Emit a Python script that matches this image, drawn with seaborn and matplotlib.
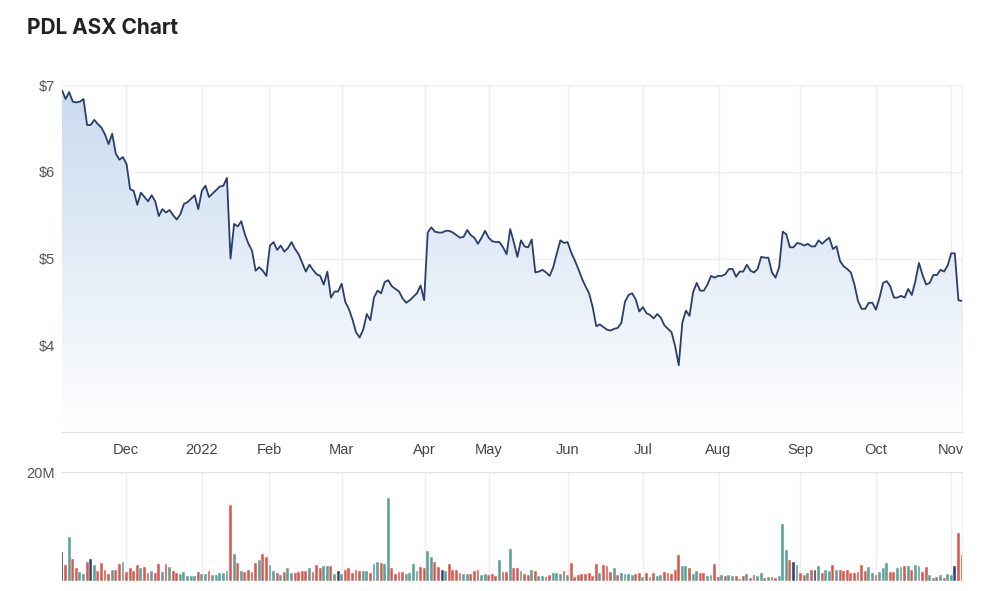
import numpy as np
import pandas as pd
import matplotlib
matplotlib.use("Agg")
import matplotlib.pyplot as plt
from matplotlib.colors import LinearSegmentedColormap
import seaborn as sns

# daily close, trading days from early Nov 2021 to early Nov 2022
price = [
    6.94, 6.84, 6.92, 6.81, 6.80, 6.81, 6.84, 6.54, 6.54, 6.60,
    6.55, 6.51, 6.43, 6.32, 6.44, 6.21, 6.14, 6.17, 6.09, 5.80,
    5.78, 5.62, 5.76, 5.71, 5.66, 5.73, 5.66, 5.49, 5.57, 5.53,
    5.56, 5.50, 5.45, 5.51, 5.63, 5.65, 5.69, 5.73, 5.57, 5.78,
    5.84, 5.71, 5.75, 5.79, 5.83, 5.84, 5.93, 5.00, 5.40, 5.37,
    5.43, 5.28, 5.17, 5.09, 4.86, 4.90, 4.86, 4.80, 5.15, 5.19,
    5.10, 5.15, 5.08, 5.12, 5.19, 5.11, 5.05, 4.95, 4.85, 4.93,
    4.87, 4.82, 4.80, 4.70, 4.85, 4.55, 4.62, 4.62, 4.71, 4.50,
    4.42, 4.30, 4.15, 4.09, 4.18, 4.36, 4.29, 4.55, 4.63, 4.60,
    4.73, 4.75, 4.68, 4.65, 4.62, 4.54, 4.49, 4.52, 4.56, 4.60,
    4.69, 4.52, 5.30, 5.36, 5.31, 5.30, 5.30, 5.32, 5.32, 5.30,
    5.27, 5.24, 5.25, 5.33, 5.27, 5.24, 5.17, 5.24, 5.32, 5.24,
    5.20, 5.19, 5.19, 5.13, 5.05, 5.34, 5.19, 5.02, 5.21, 5.14,
    5.13, 5.22, 4.84, 4.85, 4.87, 4.84, 4.80, 4.90, 5.06, 5.21,
    5.18, 5.19, 5.07, 4.98, 4.88, 4.77, 4.68, 4.60, 4.44, 4.22,
    4.24, 4.21, 4.18, 4.17, 4.19, 4.20, 4.26, 4.50, 4.58, 4.60,
    4.53, 4.39, 4.44, 4.37, 4.35, 4.31, 4.36, 4.32, 4.23, 4.19,
    4.15, 3.99, 3.77, 4.26, 4.40, 4.34, 4.61, 4.72, 4.63, 4.63,
    4.70, 4.80, 4.78, 4.80, 4.80, 4.82, 4.88, 4.88, 4.79, 4.85,
    4.85, 4.93, 4.86, 4.84, 4.88, 5.02, 5.01, 5.01, 4.84, 4.78,
    4.90, 5.31, 5.28, 5.13, 5.13, 5.18, 5.17, 5.15, 5.17, 5.14,
    5.14, 5.21, 5.17, 5.21, 5.24, 5.11, 5.14, 4.97, 4.91, 4.88,
    4.84, 4.70, 4.51, 4.42, 4.42, 4.49, 4.49, 4.41, 4.55, 4.72,
    4.74, 4.68, 4.55, 4.55, 4.57, 4.55, 4.65, 4.58, 4.74, 4.95,
    4.81, 4.70, 4.72, 4.81, 4.81, 4.87, 4.85, 4.92, 5.06, 5.06,
    4.52, 4.51,
]

# volume in millions of shares
volume_m = [
    5.3, 2.9, 8.0, 4.1, 2.3, 1.7, 1.3, 3.5, 4.0, 2.9,
    1.9, 3.3, 2.1, 1.3, 2.0, 2.1, 3.1, 3.5, 1.7, 2.3,
    1.9, 2.9, 2.3, 2.5, 1.5, 1.9, 1.5, 3.1, 1.7, 3.1,
    2.5, 1.9, 1.5, 1.3, 1.7, 0.9, 0.9, 0.9, 1.7, 1.3,
    1.3, 1.9, 1.1, 1.1, 1.5, 1.5, 1.9, 14.0, 5.0, 3.3,
    1.9, 1.7, 2.1, 1.7, 3.3, 3.9, 5.0, 4.4, 2.9, 1.9,
    1.5, 1.1, 1.7, 2.3, 1.5, 1.5, 1.7, 1.9, 1.9, 2.3,
    1.7, 2.9, 2.3, 2.7, 2.7, 2.7, 1.3, 1.9, 1.3, 2.1,
    2.3, 1.5, 2.1, 1.9, 1.9, 1.9, 1.5, 3.2, 3.5, 3.3,
    3.1, 15.2, 2.3, 1.3, 1.7, 1.7, 1.3, 1.5, 3.1, 1.9,
    2.5, 2.3, 5.5, 4.4, 3.5, 2.5, 2.1, 1.9, 3.1, 2.1,
    2.1, 1.5, 1.3, 1.3, 1.3, 1.9, 2.1, 1.1, 1.3, 1.1,
    1.3, 0.9, 3.9, 1.7, 1.7, 5.9, 2.3, 2.3, 1.9, 1.3,
    1.1, 2.1, 1.9, 0.9, 0.9, 0.7, 1.1, 1.5, 1.5, 1.3,
    1.9, 1.1, 3.3, 0.7, 1.1, 1.3, 1.3, 1.5, 0.9, 3.1,
    1.5, 2.9, 2.7, 1.7, 2.3, 1.1, 1.5, 1.3, 1.3, 1.1,
    1.3, 1.5, 0.7, 1.5, 0.7, 1.5, 0.9, 1.1, 1.7, 1.5,
    1.3, 2.1, 4.8, 2.7, 2.7, 2.3, 1.3, 1.9, 1.5, 1.5,
    0.9, 1.1, 3.1, 0.7, 1.1, 0.9, 1.1, 0.9, 0.9, 0.3,
    0.9, 1.3, 0.5, 1.1, 0.9, 1.5, 0.5, 0.7, 0.7, 0.5,
    0.9, 10.5, 5.7, 3.9, 3.5, 2.9, 1.5, 1.1, 1.5, 2.1,
    2.1, 2.7, 1.5, 2.1, 1.9, 2.9, 2.1, 2.1, 1.9, 2.1,
    1.5, 1.5, 1.7, 2.9, 1.9, 2.5, 1.5, 1.1, 1.7, 2.3,
    3.3, 1.7, 1.7, 2.3, 2.5, 2.7, 2.7, 2.1, 2.9, 2.7,
    1.7, 2.5, 1.1, 0.5, 0.7, 1.1, 0.5, 1.3, 1.1, 2.7,
    8.9, 4.8,
]

# u = up day, d = down day, f = unchanged
direction = """
f d u d d u u d f u  d d d d u d d u d d  d d u d d u d d u d
u d d u u u u u d u  u d u u u u u d u d  u d d d d u d d u u
d u d u u d d d d u  d d d u u d u f u d  d d d d u u d u u d
u u d d d d u u u u  d d u u d d f u d d  d d u u d d d u u d
d d u d d u d d u d  d u d u u d d u u u  d u d d d d d d d d
u d d d u d u u u u  d d u d u d u u d d  d d d u u d u u d d
u u d d u d u u d u  d u d d u u d u d d  u u u d f u d d u d
f u d u u d u d d d  d d d d d u u d u u  u d d u u d u d u u
d d u u d u d u u f  d d
""".split()

month_pos = [17.8, 39.0, 57.7, 78.0, 101.1, 119.1, 141.0, 162.0, 183.1, 205.9, 227.0, 248.0]
month_labels = ["Dec", "2022", "Feb", "Mar", "Apr", "May", "Jun", "Jul", "Aug", "Sep", "Oct", "Nov"]
price_ticks = [4, 5, 6, 7]
price_labels = ["$4", "$5", "$6", "$7"]

df = pd.DataFrame({
    "day": np.arange(len(price)),
    "price": price,
    "volume": volume_m,
    "move": direction,
})
last = df["day"].max()

sns.set_style("white")
plt.rcParams["font.family"] = ["Liberation Sans", "DejaVu Sans"]

fig = plt.figure(figsize=(10, 5.91), dpi=100)
ax = fig.add_axes([0.062, 0.269, 0.9, 0.587])
axv = fig.add_axes([0.062, 0.017, 0.9, 0.184])

# price panel: gradient area under the line
poly = ax.fill_between(df["day"], df["price"], 3, color="none", linewidth=0)
grad = LinearSegmentedColormap.from_list("fade", ["#ffffff", "#c9daef"])
img = ax.imshow(np.linspace(0, 1, 256).reshape(-1, 1), cmap=grad, aspect="auto",
                extent=[0, last, 3, 7], origin="lower", zorder=1)
img.set_clip_path(poly.get_paths()[0], transform=ax.transData)

sns.lineplot(data=df, x="day", y="price", ax=ax, color="#2b3d6b", linewidth=1.3, zorder=3)

ax.set_xlim(0, last)
ax.set_ylim(3, 7)
ax.set_yticks(price_ticks)
ax.set_yticklabels(price_labels)
ax.set_xticks(month_pos)
ax.set_xticklabels(month_labels)
ax.set_xlabel("")
ax.set_ylabel("")
ax.grid(True, color="#efefef", linewidth=1)
ax.set_axisbelow(True)
ax.tick_params(axis="y", length=0, pad=5, labelsize=10.5, labelcolor="#555555")
ax.tick_params(axis="x", length=0, pad=8, labelsize=10.5, labelcolor="#444444")
for side in ["top", "left"]:
    ax.spines[side].set_visible(False)
ax.spines["bottom"].set_color("#dddddd")
ax.spines["right"].set_color("#eeeeee")

# volume panel
palette = {"u": "#5c9f98", "d": "#d8584d", "f": "#2c3e70"}
sns.barplot(data=df, x="day", y="volume", hue="move", palette=palette, native_scale=True,
            dodge=False, width=0.8, errorbar=None, legend=False, saturation=1,
            linewidth=0.35, edgecolor="#f4f4f4", ax=axv)
axv.set_xlim(0, last)
axv.set_ylim(0, 20)
axv.set_yticks([20])
axv.set_yticklabels(["20M"])
axv.set_xticks(month_pos)
axv.set_xticklabels([])
axv.set_xlabel("")
axv.set_ylabel("")
axv.grid(True, color="#efefef", linewidth=1)
axv.set_axisbelow(True)
axv.tick_params(length=0, pad=5, labelsize=10.5, labelcolor="#555555")
for side in ["bottom", "left"]:
    axv.spines[side].set_visible(False)
axv.spines["top"].set_color("#e4e4e4")
axv.spines["right"].set_color("#eeeeee")

fig.text(0.027, 1 - 28 / 591, "PDL ASX Chart", fontsize=15, fontweight="bold",
         family=["Inter", "DejaVu Sans"], color="#222222", va="center")

fig.savefig("out.png", dpi=100)
